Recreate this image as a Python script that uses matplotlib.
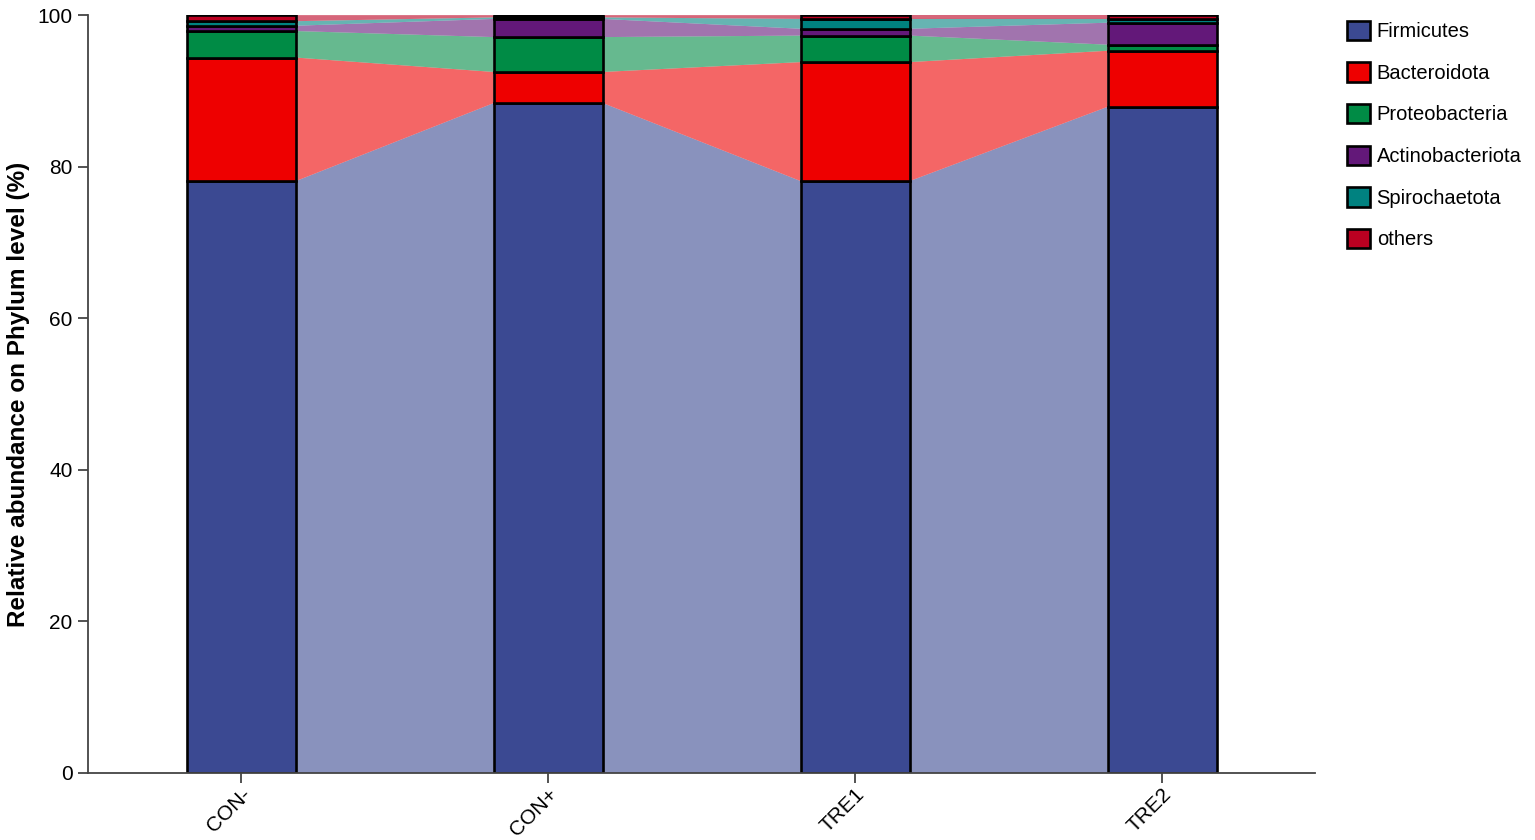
import matplotlib
matplotlib.use("Agg")
import matplotlib.pyplot as plt
from matplotlib.patches import Patch
import numpy as np

plt.rcParams['font.family'] = ['Liberation Sans', 'DejaVu Sans']

groups = ["CON-", "CON+", "TRE1", "TRE2"]
phyla = ["Firmicutes", "Bacteroidota", "Proteobacteria", "Actinobacteriota", "Spirochaetota", "others"]
colors = ["#3B4992", "#EE0000", "#008B45", "#631879", "#008280", "#BB0021"]

firmicutes = [78.1, 88.4, 78.1, 87.9]
bacteroidota = [16.3, 4.1, 15.7, 7.4]
proteobacteria = [3.5, 4.6, 3.5, 0.8]
actinobacteriota = [0.7, 2.4, 0.9, 2.9]
spirochaetota = [0.6, 0.2, 1.3, 0.5]
others = [0.8, 0.3, 0.5, 0.5]

data = np.array([firmicutes, bacteroidota, proteobacteria, actinobacteriota, spirochaetota, others])
data = data / data.sum(axis=0) * 100

fig = plt.figure(figsize=(15.35, 8.4), dpi=100)
ax = fig.add_axes([0.0573, 0.0798, 0.7997, 0.9022])

x = np.arange(len(groups))
width = 0.355
bottoms = np.vstack([np.zeros(len(groups)), np.cumsum(data, axis=0)[:-1]])
tops = bottoms + data

# flows between bars
for k in range(len(phyla)):
    for i in range(len(groups) - 1):
        xs = [x[i] + width / 2, x[i + 1] - width / 2, x[i + 1] - width / 2, x[i] + width / 2]
        ys = [bottoms[k, i], bottoms[k, i + 1], tops[k, i + 1], tops[k, i]]
        ax.fill(xs, ys, color=colors[k], alpha=0.6, linewidth=0, zorder=1)

for k in range(len(phyla)):
    ax.bar(x, data[k], width, bottom=bottoms[k], color=colors[k], edgecolor='black',
           linewidth=1.9, zorder=2)

ax.set_xlim(-0.5, 3.5)
ax.set_ylim(0, 100)
ax.set_xticks(x)
ax.set_xticklabels(groups, rotation=45, ha='right', rotation_mode='anchor', fontsize=15)
ax.set_yticks([0, 20, 40, 60, 80, 100])
ax.tick_params(axis='y', labelsize=15, length=7.5, width=1.3, color='#444444', pad=3.5)
ax.tick_params(axis='x', length=7.5, width=1.3, color='#444444', pad=1)
ax.spines['top'].set_visible(False)
ax.spines['right'].set_visible(False)
ax.spines['left'].set_color('#444444')
ax.spines['bottom'].set_color('#444444')
ax.spines['left'].set_linewidth(1.3)
ax.spines['bottom'].set_linewidth(1.3)
ax.set_ylabel("Relative abundance on Phylum level (%)", fontsize=17.5, fontweight='bold')
ax.yaxis.set_label_coords(-0.047, 0.5)

handles = [Patch(facecolor=c, edgecolor='black', linewidth=1.9, label=p) for p, c in zip(phyla, colors)]
fig.legend(handles=handles, loc='upper left', bbox_to_anchor=(0.866, 0.997), frameon=False,
           fontsize=14.5, handlelength=1.1, handleheight=1.1, handletextpad=0.35, labelspacing=1.05)

fig.savefig("out.png", dpi=100)
